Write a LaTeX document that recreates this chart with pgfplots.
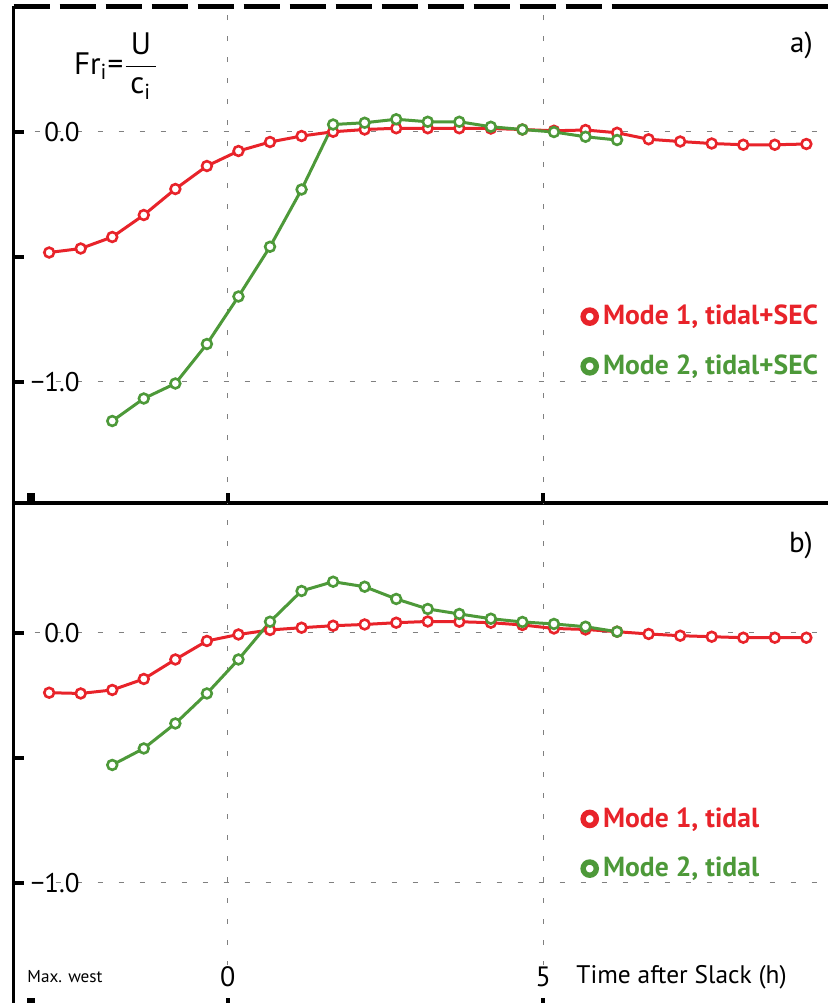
\documentclass[border=0pt]{standalone}
\usepackage{pgfplots}
\pgfplotsset{compat=1.18}
\usepackage{fontspec}
\setmainfont{PT Sans}
\definecolor{myred}{HTML}{E8232A}
\definecolor{mygreen}{HTML}{4D9939}

\pgfplotsset{
  panel/.style={
    x=31.55pt, y=125pt,
    xmin=-3.395, xmax=9.7,
    axis x line*=bottom, axis y line*=left,
    axis line style={line width=1.75pt, -},
    tick align=inside,
    major tick length=5pt,
    tick style={line width=2pt, black},
    xtick={0,5}, xticklabels={},
    extra x ticks={-3.117}, extra x tick labels={},
    extra x tick style={grid=none, major tick style={line width=4pt}},
    ytick={-1,0}, yticklabels={−1.0,0.0},
    extra y ticks={-0.5}, extra y tick labels={},
    extra y tick style={grid=none},
    grid=major,
    major grid style={gray, line width=0.6pt, dash pattern=on 2.5pt off 8pt},
    yticklabel style={anchor=east, inner sep=0pt, xshift=33.25pt, font=\fontsize{13.5}{15}\selectfont},
    clip=false,
    legend style={draw=none, fill=none, anchor=west, inner sep=0pt, row sep=9.5pt,
      font=\bfseries\fontsize{13.8}{15}\selectfont, cells={anchor=west}},
    legend image code/.code={\draw[#1, line width=2.7pt, fill=white, solid] (4.5pt,0pt) circle (3.3pt);},
    every axis plot/.append style={line width=1.5pt, mark=*, mark size=2.45pt,
      mark options={line width=1.3pt, fill=white, solid}},
  }
}

\begin{document}
\begin{tikzpicture}
% ---------------- panel a ----------------
\begin{axis}[panel, ymin=-1.485, ymax=0.503, at={(6.75pt,-251.5pt)}, anchor=south west,
  legend style={at={(axis description cs:0.6856,0.325)}}]
\addplot[color=myred] coordinates {
(-2.83,-0.483) (-2.33,-0.467) (-1.83,-0.421) (-1.33,-0.333) (-0.83,-0.229)
(-0.33,-0.137) (0.17,-0.077) (0.67,-0.041) (1.17,-0.017) (1.67,0.000)
(2.17,0.009) (2.67,0.014) (3.17,0.014) (3.67,0.014) (4.17,0.013)
(4.67,0.009) (5.17,0.004) (5.67,0.007) (6.17,-0.004) (6.67,-0.030)
(7.17,-0.039) (7.67,-0.047) (8.17,-0.052) (8.67,-0.052) (9.17,-0.049)};
\addlegendentry{\textcolor{myred}{Mode 1, tidal+SEC}}
\addplot[color=mygreen] coordinates {
(-1.83,-1.157) (-1.33,-1.067) (-0.83,-1.007) (-0.33,-0.849) (0.17,-0.659)
(0.67,-0.460) (1.17,-0.231) (1.67,0.029) (2.17,0.036) (2.67,0.050)
(3.17,0.040) (3.67,0.040) (4.17,0.020) (4.67,0.009) (5.17,-0.001)
(5.67,-0.020) (6.17,-0.033)};
\addlegendentry{\textcolor{mygreen}{Mode 2, tidal+SEC}}
\node[anchor=east, inner sep=0pt, font=\fontsize{14.5}{16}\selectfont] at (axis cs:9.276,0.347) {a)};
\node[anchor=west, font=\fontsize{15.5}{17}\selectfont, inner sep=0pt] at (axis cs:-2.44,0.263)
  {Fr\textsubscript{i}$\mbox{=}\displaystyle\frac{\mbox{\,U\,}}{\mbox{c\textsubscript{i}}}$};
\end{axis}
% ---------------- panel b ----------------
\begin{axis}[panel, ymin=-1.5, ymax=0.52, at={(6.75pt,-503.85pt)}, anchor=south west,
  legend style={at={(axis description cs:0.6856,0.3246)}}]
\addplot[color=myred] coordinates {
(-2.83,-0.240) (-2.33,-0.243) (-1.83,-0.229) (-1.33,-0.185) (-0.83,-0.107)
(-0.33,-0.033) (0.17,-0.007) (0.67,0.011) (1.17,0.020) (1.67,0.028)
(2.17,0.033) (2.67,0.040) (3.17,0.045) (3.67,0.044) (4.17,0.040)
(4.67,0.031) (5.17,0.017) (5.67,0.013) (6.17,0.004) (6.67,-0.005)
(7.17,-0.012) (7.67,-0.016) (8.17,-0.020) (8.67,-0.020) (9.17,-0.020)};
\addlegendentry{\textcolor{myred}{Mode 1, tidal}}
\addplot[color=mygreen] coordinates {
(-1.83,-0.529) (-1.33,-0.463) (-0.83,-0.363) (-0.33,-0.243) (0.17,-0.107)
(0.67,0.044) (1.17,0.167) (1.67,0.204) (2.17,0.184) (2.67,0.135)
(3.17,0.095) (3.67,0.075) (4.17,0.056) (4.67,0.043) (5.17,0.035)
(5.67,0.024) (6.17,0.004)};
\addlegendentry{\textcolor{mygreen}{Mode 2, tidal}}
\node[anchor=east, inner sep=0pt, font=\fontsize{14.5}{16}\selectfont] at (axis cs:9.276,0.351) {b)};
\node[fill=white, inner sep=1pt, font=\fontsize{14}{16}\selectfont] at (axis cs:0,-1.377) {0};
\node[fill=white, inner sep=1pt, font=\fontsize{14}{16}\selectfont] at (axis cs:5,-1.377) {5};
\node[anchor=west, inner sep=0pt, font=\fontsize{12.7}{15}\selectfont] at (axis cs:5.52,-1.377) {Time after Slack (h)};
\node[anchor=west, inner sep=0pt, font=\fontsize{8.6}{10}\selectfont] at (axis cs:-3.18,-1.377) {Max. west};
\end{axis}
% top border (cropped figure above)
\draw[line width=2.5pt, dash pattern=on 18pt off 5pt] (6.75pt,-3pt) -- (312.5pt,-3pt);
\draw[line width=2.5pt] (312.5pt,-3pt) -- (420pt,-3pt);
\pgfresetboundingbox
\useasboundingbox (0pt,0pt) rectangle (413.5pt,-501.5pt);
\end{tikzpicture}
\end{document}
